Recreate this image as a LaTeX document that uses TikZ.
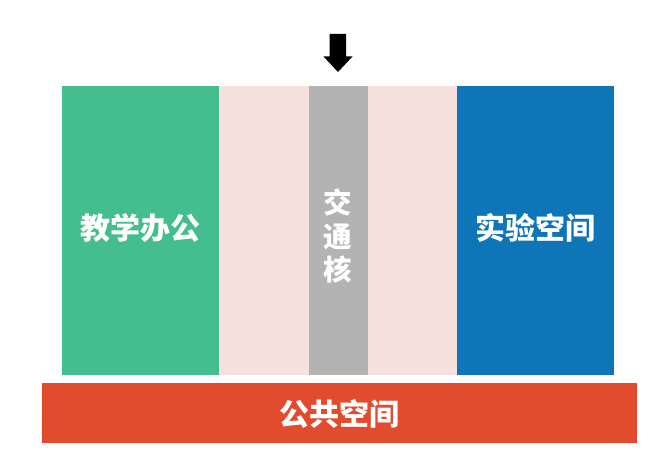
\documentclass[tikz,border=0pt]{standalone}
\usepackage{fontspec}
\newfontfamily\cjk{Noto Sans CJK SC}
\definecolor{cgreen}{HTML}{45BE8F}
\definecolor{cpink}{HTML}{F7E1DF}
\definecolor{cgray}{HTML}{B3B3B3}
\definecolor{cblue}{HTML}{0E75B9}
\definecolor{cred}{HTML}{E24C2E}
\begin{document}
\begin{tikzpicture}[x=1pt,y=-1pt,
  lbl/.style={text=white,font=\cjk\bfseries\fontsize{30}{34}\selectfont,align=center,inner sep=0pt}]
\useasboundingbox (0,0) rectangle (670,468);
\fill[white] (0,0) rectangle (670,468);
% zones
\fill[cpink] (219,86) rectangle (457,374.5);
\fill[cgreen] (62,86) rectangle (219,374.5);
\fill[cgray] (308.5,86) rectangle (367.5,374.5);
\fill[cblue] (457,86) rectangle (614,374.5);
\fill[cred] (42,383) rectangle (636.5,443);
% labels
\node[lbl] (teach) at (140.5,228) {教学办公};
\node[lbl,font=\cjk\bfseries\fontsize{28.5}{33.5}\selectfont] (core) at (338,236) {交\\通\\核};
\node[lbl] (lab) at (535.5,228) {实验空间};
\node[lbl] (pub) at (339,414) {公共空间};
% entrance arrow
\fill[black] (329.5,34) -- (346,34) -- (346,56.5) -- (352.5,56.5) -- (338,72) -- (323.5,56.5) -- (329.5,56.5) -- cycle;
\end{tikzpicture}
\end{document}
